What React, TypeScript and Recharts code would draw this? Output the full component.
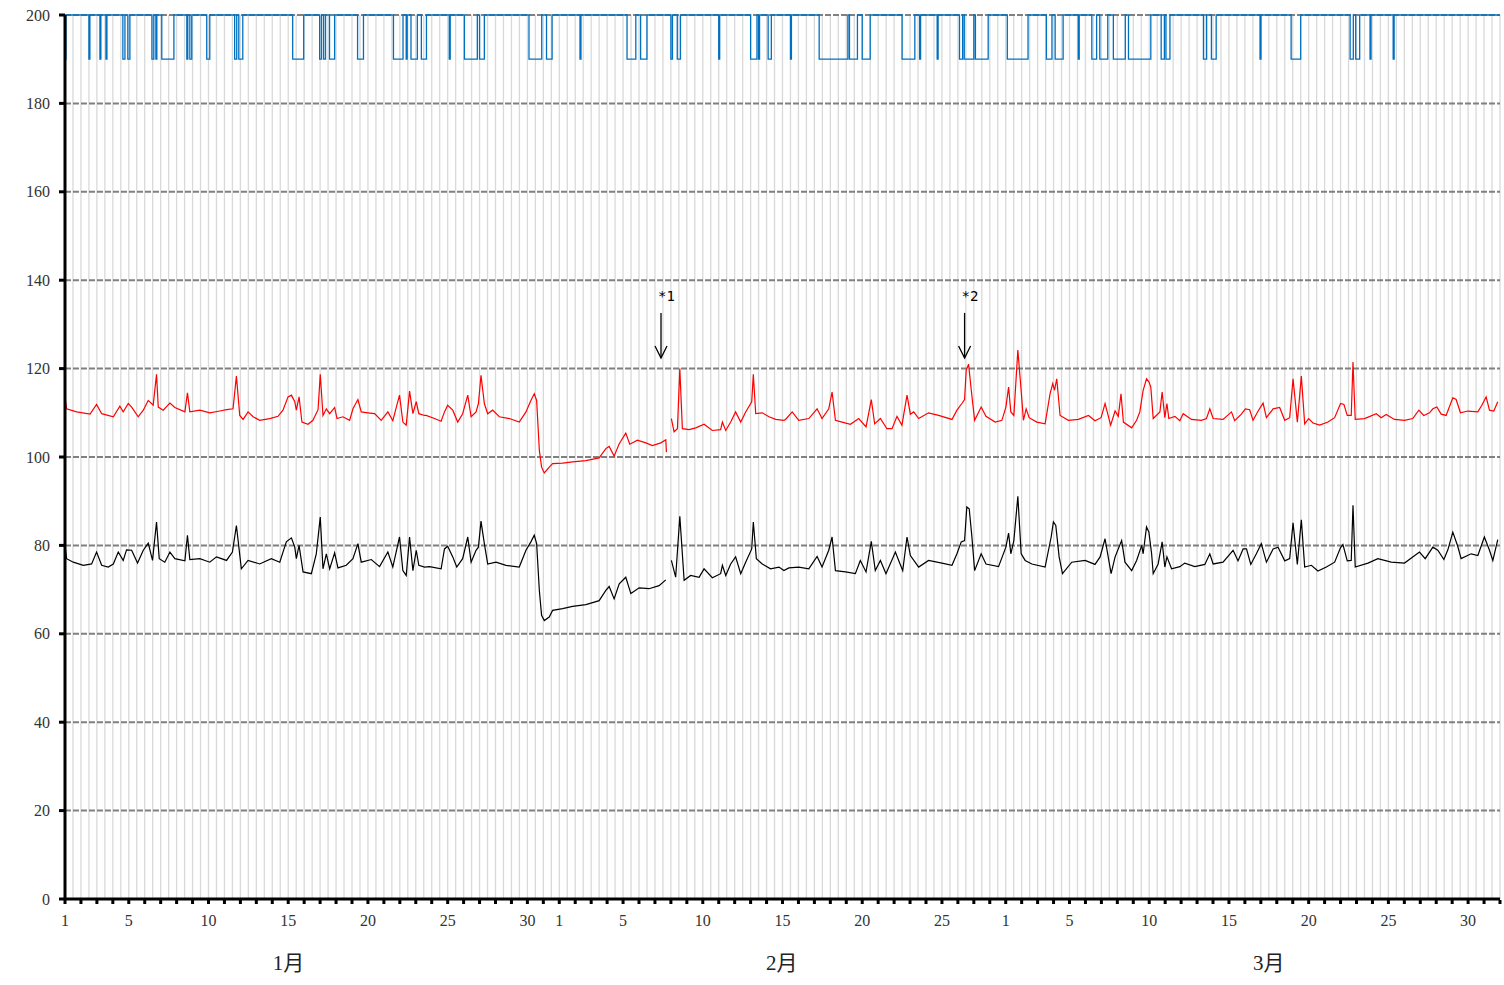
import React from 'react';
import { LineChart, Line, XAxis, YAxis, CartesianGrid, ReferenceLine } from 'recharts';

// ---- axis / label data ----
const monthNames = ['1月', '2月', '3月'];
const monthLengths = [31, 28, 31];
const monthLabelDays = [14.02, 44.95, 75.5];
const labeledDates = [1, 5, 10, 15, 20, 25, 30];
const yTicks = [0, 20, 40, 60, 80, 100, 120, 140, 160, 180, 200];

// ---- series: [day offset from Jan 1 00:00, value] ----
const redPoints = [
  [0, 113.6], [0.1, 110.9], [0.73, 110.2], [1.57, 109.7], [1.98, 111.9], [2.3, 109.8], [3.03, 109.1], [3.44, 111.5], [3.65, 110.2], [3.97, 112.1], [4.18, 111.3], [4.59, 109.1], [4.91, 110.6], [5.22, 112.8], [5.53, 111.7], [5.74, 118.7], [5.85, 111.3], [6.16, 110.6], [6.58, 112.2], [6.89, 111.2], [7.52, 110.2], [7.68, 114.5], [7.83, 110.2], [8.46, 110.6], [9.08, 110.0], [9.71, 110.4], [10.13, 110.7], [10.54, 110.9], [10.75, 118.3], [10.96, 109.4], [11.17, 108.5], [11.48, 110.2], [11.8, 109.1], [12.21, 108.3], [12.84, 108.7], [13.36, 109.2], [13.67, 110.6], [13.99, 113.6], [14.2, 114.0], [14.41, 112.5], [14.51, 110.6], [14.68, 113.6], [14.86, 107.9], [15.24, 107.4], [15.55, 108.3], [15.87, 110.7], [16.01, 118.7], [16.18, 109.4], [16.39, 110.9], [16.6, 109.8], [16.91, 111.2], [17.06, 108.7], [17.43, 109.1], [17.85, 108.3], [18.06, 110.9], [18.37, 113.0], [18.58, 110.2], [19.0, 110.0], [19.42, 109.8], [19.83, 108.3], [20.25, 110.2], [20.56, 108.2], [20.81, 111.7], [20.98, 114.0], [21.19, 107.9], [21.4, 107.2], [21.61, 114.9], [21.82, 109.8], [22.03, 112.5], [22.19, 109.8], [22.55, 109.4],
  [22.65, 109.4], [23.17, 108.7], [23.59, 108.1], [23.8, 110.2], [24.0, 111.7], [24.32, 110.6], [24.63, 107.9], [24.94, 109.8], [25.26, 114.0], [25.47, 109.1], [25.78, 110.2], [25.93, 112.1], [26.09, 118.5], [26.3, 112.1], [26.51, 109.8], [26.82, 110.6], [27.24, 109.1], [27.87, 108.7], [28.49, 107.9], [28.91, 110.2], [29.22, 112.8], [29.43, 114.3], [29.58, 112.8], [29.75, 101.5], [29.89, 97.7], [30.06, 96.4], [30.37, 97.7], [30.58, 98.5], [31.21, 98.6], [31.83, 98.9], [32.67, 99.2], [33.5, 99.8], [33.92, 101.9], [34.13, 102.4], [34.44, 100.2], [34.76, 103.0], [35.17, 105.4], [35.42, 102.9], [35.9, 103.8], [36.43, 103.2], [36.84, 102.6], [37.37, 103.2], [37.68, 103.9], [37.72, 101.1],
  [37.85, null],
  [38.03, 108.7], [38.2, 105.7], [38.41, 106.4], [38.56, 120.0], [38.72, 106.4], [39.14, 106.2], [39.56, 106.6], [40.08, 107.4], [40.6, 106.0], [41.12, 106.2], [41.23, 107.9], [41.44, 106.0], [41.75, 107.9], [42.06, 110.2], [42.38, 107.9], [42.69, 110.2], [43.07, 112.5], [43.17, 118.7], [43.32, 109.8], [43.73, 110.0], [44.15, 109.1], [44.57, 108.5], [45.09, 108.3],
  [45.19, 108.5], [45.61, 110.2], [46.02, 108.3], [46.65, 108.7], [47.17, 110.9], [47.48, 108.7], [47.9, 110.9], [48.11, 114.7], [48.32, 108.3], [48.74, 107.9], [49.26, 107.4], [49.78, 108.7], [50.24, 106.8], [50.57, 113.0], [50.78, 107.5], [51.14, 108.7], [51.55, 106.4], [51.87, 106.4], [52.18, 109.2], [52.49, 107.2], [52.81, 114.0], [53.02, 109.7], [53.23, 110.2], [53.54, 108.7], [54.16, 110.0], [54.79, 109.4], [55.63, 108.5], [55.94, 110.6], [56.25, 112.1], [56.42, 113.0], [56.52, 119.6], [56.67, 121.0], [56.84, 115.1], [57.05, 108.3], [57.46, 111.3], [57.76, 109.2], [58.34, 107.9], [58.76, 108.3], [59.01, 111.3], [59.18, 115.8], [59.32, 110.2], [59.51, 109.4], [59.76, 124.2], [59.95, 115.8], [60.11, 108.3], [60.28, 110.9], [60.47, 108.9], [60.95, 107.9], [61.47, 107.5], [61.78, 114.3], [61.95, 116.6], [62.06, 115.1], [62.2, 117.7], [62.41, 109.4], [62.93, 108.3], [63.56, 108.5], [64.19, 109.4], [64.6, 108.2], [64.98, 108.9], [65.23, 112.1], [65.58, 107.2], [65.86, 110.4], [66.06, 109.2], [66.23, 114.3], [66.38, 107.9], [66.9, 106.6], [67.21, 108.3],
  [67.41, 110.2], [67.62, 115.1], [67.83, 117.7], [67.98, 117.0], [68.1, 115.8], [68.25, 108.7], [68.67, 110.2], [68.81, 114.7], [68.98, 108.9], [69.11, 112.1], [69.23, 108.7], [69.61, 109.2], [69.92, 108.2], [70.13, 109.8], [70.65, 108.5], [71.28, 108.3], [71.59, 108.7], [71.8, 110.9], [72.01, 108.7], [72.63, 108.5], [73.16, 110.2], [73.36, 108.2], [73.78, 109.7], [74.03, 110.9], [74.3, 110.7], [74.51, 108.3], [74.83, 110.4], [75.14, 112.2], [75.35, 108.9], [75.77, 110.9], [76.18, 111.2], [76.5, 108.3], [76.81, 108.9], [77.02, 117.7], [77.29, 107.9], [77.54, 118.3], [77.75, 107.5], [78.0, 108.7], [78.27, 107.7], [78.69, 107.2], [79.21, 107.9], [79.63, 108.9], [80.0, 112.1], [80.21, 111.9], [80.42, 109.4], [80.67, 109.4], [80.78, 121.5], [80.92, 108.5], [81.51, 108.7], [82.24, 109.8], [82.55, 108.9], [82.86, 109.6], [83.38, 108.5], [84.01, 108.3], [84.53, 108.7], [84.91, 110.6], [85.22, 109.4], [85.58, 110.0], [85.79, 110.9], [86.04, 111.3], [86.31, 109.7], [86.62, 109.4], [87.04, 113.4], [87.25, 113.0], [87.52, 110.0], [87.98, 110.4], [88.61, 110.2], [88.86, 111.7], [89.13, 113.6], [89.34, 110.6], [89.61, 110.4], [89.86, 112.5],
];

const blackPoints = [
  [0, 80.0], [0.1, 77.0], [0.52, 76.2], [1.15, 75.5], [1.67, 75.8], [1.98, 78.5], [2.3, 75.5], [2.71, 75.1], [3.03, 75.8], [3.34, 78.5], [3.65, 76.6], [3.86, 79.0], [4.18, 78.9], [4.55, 76.0], [4.91, 78.9], [5.22, 80.5], [5.49, 76.6], [5.74, 85.3], [5.91, 77.0], [6.26, 76.2], [6.58, 78.5], [6.89, 77.0], [7.52, 76.5], [7.68, 82.3], [7.83, 76.8], [8.46, 77.0], [9.08, 76.2], [9.5, 77.4], [10.13, 76.6], [10.5, 78.5], [10.75, 84.5], [11.06, 74.7], [11.48, 76.6], [12.21, 75.8], [12.94, 77.0], [13.47, 76.2], [13.88, 80.8], [14.2, 81.7], [14.41, 79.6], [14.51, 77.0], [14.68, 80.0], [14.93, 74.0], [15.45, 73.6], [15.76, 78.1], [16.01, 86.4], [16.18, 74.7], [16.39, 78.1], [16.6, 74.7], [16.91, 78.3], [17.12, 74.9], [17.64, 75.5], [18.06, 77.0], [18.37, 80.4], [18.58, 76.2], [19.21, 76.8], [19.73, 75.2], [20.25, 78.5], [20.56, 75.1], [20.98, 81.9], [21.19, 74.3], [21.4, 73.2], [21.61, 81.9], [21.82, 74.3], [22.03, 78.9], [22.19, 75.5], [22.55, 75.1],
  [22.86, 75.2], [23.59, 74.7], [23.8, 79.2], [24.0, 79.8], [24.32, 77.4], [24.57, 75.1], [24.94, 77.0], [25.26, 81.9], [25.47, 76.2], [25.78, 78.9], [25.93, 79.6], [26.09, 85.5], [26.3, 80.4], [26.51, 75.8], [27.03, 76.2], [27.66, 75.5], [28.49, 75.1], [28.91, 78.9], [29.22, 80.8], [29.43, 82.3], [29.58, 80.4], [29.75, 69.8], [29.89, 64.2], [30.06, 63.0], [30.37, 63.8], [30.58, 65.3], [31.21, 65.7], [31.83, 66.2], [32.67, 66.6], [33.5, 67.5], [33.92, 69.8], [34.13, 70.7], [34.44, 67.9], [34.76, 71.3], [35.17, 72.8], [35.49, 69.1], [36.01, 70.4], [36.63, 70.2], [37.26, 70.9], [37.68, 72.2],
  [37.85, null],
  [38.03, 76.6], [38.3, 72.8], [38.56, 86.6], [38.83, 72.1], [39.24, 73.2], [39.77, 72.8], [40.08, 74.7], [40.6, 72.7], [41.12, 73.6], [41.23, 75.5], [41.44, 73.2], [41.75, 75.8], [42.06, 77.4], [42.38, 73.6], [42.69, 76.2], [43.07, 79.2], [43.17, 85.3], [43.36, 77.0], [43.73, 75.8], [44.25, 74.7], [44.78, 75.1], [45.09, 74.3],
  [45.4, 74.9], [46.02, 75.1], [46.65, 74.7], [47.17, 77.5], [47.48, 75.1], [47.9, 78.9], [48.11, 81.9], [48.32, 74.3], [48.95, 74.0], [49.57, 73.6], [49.88, 76.6], [50.24, 74.0], [50.57, 80.9], [50.82, 74.3], [51.14, 76.6], [51.49, 73.6], [52.08, 78.5], [52.33, 76.2], [52.54, 74.3], [52.81, 81.9], [53.02, 77.7], [53.54, 75.1], [54.16, 76.6], [55.0, 76.0], [55.63, 75.5], [55.94, 78.1], [56.21, 80.8], [56.42, 81.1], [56.56, 88.7], [56.71, 88.3], [56.88, 81.9], [57.05, 74.3], [57.46, 78.1], [57.76, 75.8], [58.55, 75.2], [59.01, 79.6], [59.18, 82.8], [59.32, 78.1], [59.51, 81.1], [59.76, 91.1], [59.97, 78.1], [60.22, 76.6], [60.64, 75.8], [61.47, 75.1], [61.85, 81.9], [61.99, 85.3], [62.14, 84.5], [62.35, 77.4], [62.56, 73.6], [63.14, 76.2], [63.98, 76.6], [64.6, 75.7], [64.92, 77.4], [65.23, 81.5], [65.61, 73.6], [65.86, 77.4], [66.27, 81.1], [66.48, 76.2], [66.9, 74.3], [67.21, 76.6], [67.53, 80.0],
  [67.62, 78.1], [67.83, 84.2], [67.98, 83.0], [68.15, 78.1], [68.25, 73.6], [68.56, 75.8], [68.81, 80.8], [68.98, 75.1], [69.11, 77.4], [69.4, 74.7], [69.92, 75.2], [70.23, 76.0], [70.86, 75.2], [71.49, 75.7], [71.8, 78.1], [72.01, 75.8], [72.63, 76.2], [73.26, 78.9], [73.57, 76.5], [73.89, 79.2], [74.1, 79.2], [74.37, 75.7], [74.72, 78.1], [75.03, 80.4], [75.35, 76.2], [75.77, 79.2], [76.08, 79.6], [76.5, 76.5], [76.81, 77.0], [77.02, 85.1], [77.29, 75.7], [77.54, 85.8], [77.75, 75.1], [78.17, 75.5], [78.58, 74.2], [79.11, 75.1], [79.63, 76.2], [80.0, 79.5], [80.15, 80.2], [80.42, 76.5], [80.67, 76.6], [80.78, 89.1], [80.92, 75.1], [81.72, 76.0], [82.34, 77.0], [83.18, 76.2], [84.01, 76.0], [84.95, 78.5], [85.31, 77.0], [85.79, 79.6], [86.1, 78.9], [86.48, 76.8], [86.73, 79.0], [87.04, 83.0], [87.35, 79.8], [87.56, 77.0], [88.19, 78.1], [88.61, 77.7], [89.02, 81.9], [89.34, 78.9], [89.55, 76.6], [89.86, 81.3],
];

// blue status: value drops from 200 to 190 during these intervals [start day, end day]
const blueHigh = 200;
const blueLow = 190;
const blueDips = [
  [0, 0.06], [1.5, 1.56], [2.19, 2.25], [2.57, 2.63], [3.63, 3.76], [3.94, 4.07], [5.45, 5.57], [5.7, 5.76], [6.07, 6.83], [7.64, 7.7], [7.83, 7.95], [8.89, 9.08], [10.64, 10.77], [10.9, 11.15], [14.28, 14.97], [15.97, 16.09], [16.22, 16.34], [16.59, 16.91], [18.35, 18.72], [20.6, 21.2], [21.4, 21.46], [21.7, 22.1], [22.35, 22.67], [24.1, 24.16], [25.05, 25.86], [26.0, 26.3], [29.1, 29.9], [30.2, 30.55], [32.3, 32.36], [35.25, 35.8], [36.1, 36.5], [38.0, 38.1], [38.4, 38.6], [41.0, 41.06], [43.0, 43.4], [43.5, 43.56], [44.1, 44.3], [45.5, 45.56], [47.3, 49.1], [49.2, 49.7], [50.0, 50.5], [52.5, 53.3], [53.6, 53.66], [54.7, 54.76], [56.1, 56.3], [56.4, 57.0], [57.1, 57.9], [59.1, 60.4], [61.55, 61.9], [62.1, 62.6], [63.55, 63.61], [64.4, 64.7], [64.9, 65.4], [65.75, 66.5], [66.7, 68.1], [68.75, 68.95], [69.05, 69.3], [71.4, 71.6], [71.9, 72.2], [74.95, 75.01], [76.9, 77.5], [80.6, 80.8], [80.95, 81.2], [81.85, 81.91], [83.3, 83.36],
];

// annotations (arrows)
const notes = [
  { label: '*1', day: 37.38, top: 132.6, bottom: 122.4 },
  { label: '*2', day: 56.42, top: 132.6, bottom: 122.4 },
];

// ---- build tables ----
const toSeries = (pts: any[]) => pts.map(([t, v]) => ({ t, v }));
const redSeries = toSeries(redPoints);
const blackSeries = toSeries(blackPoints);
const blueSeries: { t: number; v: number }[] = [];
blueDips.forEach(([s, e]) => {
  blueSeries.push({ t: s, v: blueLow });
  blueSeries.push({ t: e, v: blueHigh });
});
blueSeries.push({ t: 90, v: blueHigh });

const totalDays = monthLengths.reduce((a, b) => a + b, 0);
const dayTicks = Array.from({ length: totalDays * 2 + 1 }, (_, i) => i / 2);

const dayLabel = (v: number) => {
  let start = 0;
  for (let m = 0; m < monthLengths.length; m++) {
    if (v < start + monthLengths[m]) {
      const dom = v - start + 1;
      return labeledDates.includes(dom) ? String(dom) : '';
    }
    start += monthLengths[m];
  }
  return '';
};

const DAY_TICK_SIZE = 4;
const DAY_TICK_MARGIN = 12;
const SERIF = "'Liberation Serif', 'DejaVu Serif', serif";

const DayTick = (props: any) => {
  const { x, y, payload } = props;
  const v = payload.value;
  const isDay = Math.abs(v - Math.round(v)) < 1e-6;
  const label = isDay ? dayLabel(Math.round(v)) : '';
  const axisY = y - DAY_TICK_MARGIN - DAY_TICK_SIZE;
  return (
    <g>
      {isDay && <rect x={x - 1.5} y={axisY + 1} width={3} height={4} fill="#000" />}
      {label && (
        <text x={x} y={y} dy="0.71em" textAnchor="middle" fontSize={16} fontFamily={SERIF} fill="#333">
          {label}
        </text>
      )}
    </g>
  );
};

const makeMonthLabel = (name: string) => (p: any) => {
  const { x1, y1, y2 } = p;
  const bottom = Math.max(y1, y2);
  return (
    <text x={x1} y={bottom + 71} textAnchor="middle" fontSize={21} fontFamily={"'Liberation Serif', 'Noto Sans CJK JP', serif"} fill="#222">
      {name}
    </text>
  );
};

const makeArrow = (label: string) => (p: any) => {
  const { x1, y1, x2, y2 } = p;
  return (
    <g>
      <line x1={x1} y1={y1} x2={x2} y2={y2} stroke="#000" strokeWidth={1.3} />
      <polyline points={`${x2 - 6},${y2 - 12} ${x2},${y2} ${x2 + 6},${y2 - 12}`} fill="none" stroke="#000" strokeWidth={1.3} />
      <text x={x1 - 3} y={y1 - 12} fontFamily="'DejaVu Sans Mono', monospace" fontSize={14} fill="#000">
        {label}
      </text>
    </g>
  );
};

export default function App() {
  return (
    <div style={{ position: 'absolute', left: 0, top: 0, width: 1504, height: 985, background: '#fff' }}>
      <LineChart width={1504} height={985} margin={{ top: 15, right: 4, bottom: 0, left: 0 }}>
        <CartesianGrid horizontal={false} vertical stroke="#d9d9d9" strokeWidth={1.3} />
        <CartesianGrid vertical={false} horizontal stroke="#808080" strokeWidth={2} strokeDasharray="6 2" />
        <XAxis
          xAxisId={0}
          type="number"
          dataKey="t"
          domain={[0, totalDays]}
          ticks={dayTicks}
          interval={0}
          height={86}
          tickSize={DAY_TICK_SIZE}
          tickMargin={DAY_TICK_MARGIN}
          tickLine={false}
          axisLine={{ stroke: '#000', strokeWidth: 3 }}
          tick={<DayTick />}
          allowDataOverflow
        />
        <YAxis
          type="number"
          domain={[0, 200]}
          ticks={yTicks}
          interval={0}
          width={65}
          tickSize={6}
          tickMargin={9}
          axisLine={{ stroke: '#000', strokeWidth: 3 }}
          tickLine={{ stroke: '#000', strokeWidth: 3 }}
          tick={{ fill: '#333', fontSize: 16, fontFamily: SERIF }}
        />
        <Line data={blueSeries} dataKey="v" type="stepAfter" stroke="#0070c0" strokeWidth={1.3} dot={false} activeDot={false} isAnimationActive={false} />
        <Line data={redSeries} dataKey="v" type="linear" stroke="#ff0000" strokeWidth={1.2} dot={false} activeDot={false} connectNulls={false} isAnimationActive={false} />
        <Line data={blackSeries} dataKey="v" type="linear" stroke="#000000" strokeWidth={1.2} dot={false} activeDot={false} connectNulls={false} isAnimationActive={false} />
        {notes.map((n) => (
          <ReferenceLine
            key={n.label}
            segment={[{ x: n.day, y: n.top }, { x: n.day, y: n.bottom }]}
            stroke="#000"
            shape={makeArrow(n.label)}
          />
        ))}
        {monthLabelDays.map((d, i) => (
          <ReferenceLine key={monthNames[i]} x={d} stroke="none" shape={makeMonthLabel(monthNames[i])} />
        ))}
      </LineChart>
    </div>
  );
}
